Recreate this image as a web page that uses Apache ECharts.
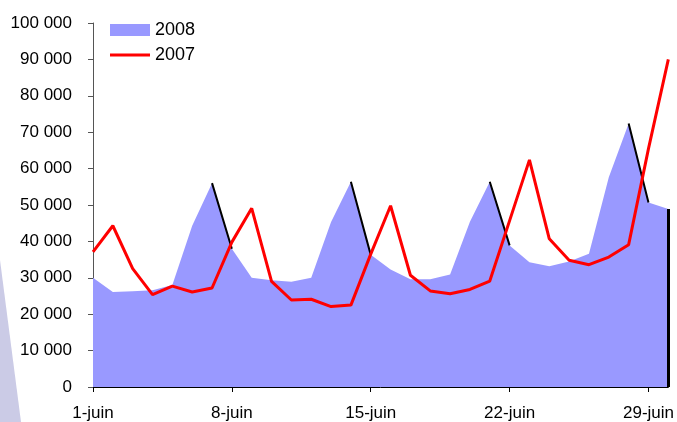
<!DOCTYPE html>
<html>
<head>
<meta charset="utf-8">
<script src="https://cdn.jsdelivr.net/npm/echarts@6/dist/echarts.min.js"></script>
<style>html,body{margin:0;padding:0;background:#fff}#c{width:677px;height:422px}</style>
</head>
<body>
<div id="c"></div>
<script>
const categories = ['1-juin','2-juin','3-juin','4-juin','5-juin','6-juin','7-juin','8-juin','9-juin','10-juin',
  '11-juin','12-juin','13-juin','14-juin','15-juin','16-juin','17-juin','18-juin','19-juin','20-juin',
  '21-juin','22-juin','23-juin','24-juin','25-juin','26-juin','27-juin','28-juin','29-juin','30-juin'];
const values2008 = [30000,26100,26300,26600,28000,44300,56000,38000,30000,29300,
  28900,30000,45300,56400,36300,32300,29600,29600,30900,45400,
  56400,38900,34300,33200,34500,36600,57600,72400,50700,48900];
const values2007 = [37100,44300,32500,25400,27700,26100,27200,39800,49100,29000,
  23900,24100,22100,22500,36500,49800,30700,26400,25600,26800,
  29100,45700,62400,40700,34800,33600,35700,39100,65500,90000];
const shadowStarts = [6,13,20,27];
const yTicks = {min:0, max:100000, interval:10000};

const shadow = values2008.map((v,i)=> (shadowStarts.includes(i) || shadowStarts.includes(i-1)) ? v : null);
const last = categories.length - 1;
const fmt = v => String(v).replace(/\B(?=(\d{3})+(?!\d))/g,' ');
const font = 'Liberation Sans, Arial, sans-serif';
const legendText = {fontSize:18, color:'#000', fontFamily:font};

const chart = echarts.init(document.getElementById('c'));
chart.setOption({
  animation:false,
  textStyle:{fontFamily:font},
  graphic:[{type:'polygon', shape:{points:[[0,260],[21,422],[0,422]]}, style:{fill:'#CBCBE6'}, z:-1}],
  grid:{left:93, right:7, top:23, bottom:33},
  legend:[
    {left:105, top:16, itemWidth:40, itemHeight:12, textStyle:legendText,
     data:[{name:'2008', icon:'rect'}]},
    {left:105, top:41, itemWidth:40, itemHeight:3, textStyle:legendText,
     data:[{name:'2007', icon:'rect'}]}
  ],
  xAxis:{
    type:'category', data:categories, boundaryGap:false,
    axisLine:{lineStyle:{color:'#000', width:1}},
    axisTick:{interval:6, length:5, lineStyle:{color:'#000'}},
    axisLabel:{interval:6, margin:18, fontSize:17, color:'#000', fontFamily:font}
  },
  yAxis:{
    type:'value', min:yTicks.min, max:yTicks.max, interval:yTicks.interval,
    axisLine:{show:true, lineStyle:{color:'#555', width:1}},
    axisTick:{show:true, length:5, lineStyle:{color:'#555'}},
    splitLine:{show:false},
    axisLabel:{margin:21, fontSize:17, color:'#000', fontFamily:font, formatter:fmt}
  },
  series:[
    {name:'2008', type:'line', data:values2008, symbol:'none', color:'#9999FF',
     lineStyle:{width:0, color:'#9999FF'}, areaStyle:{color:'#9999FF', opacity:1}, z:1},
    {name:'shadow', type:'line', data:shadow, symbol:'none', connectNulls:false,
     lineStyle:{width:2, color:'#000'}, z:2,
     markLine:{symbol:'none', silent:true, label:{show:false},
       lineStyle:{color:'#000', width:3, type:'solid'},
       data:[[{coord:[categories[last], values2008[last]]},{coord:[categories[last], 0]}]]}},
    {name:'2007', type:'line', data:values2007, symbol:'none', color:'#FF0000',
     lineStyle:{width:3, color:'#FF0000'}, z:3}
  ]
});
</script>
</body>
</html>
